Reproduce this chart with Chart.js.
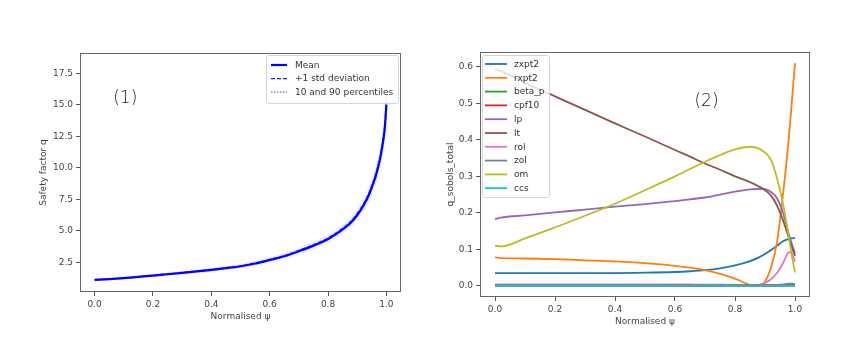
<!DOCTYPE html>
<html>
<head>
<meta charset="utf-8">
<script src="https://cdn.jsdelivr.net/npm/chart.js@4.4.1/dist/chart.umd.min.js"></script>
<style>
  html, body { margin: 0; padding: 0; background: #fff; }
  #wrap { position: relative; width: 865px; height: 344px; }
  #qChart { position: absolute; left: 0; top: 0; }
  #sobolChart { position: absolute; left: 430px; top: 0; }
</style>
</head>
<body>
<div id="wrap">
  <canvas id="qChart" width="430" height="344"></canvas>
  <canvas id="sobolChart" width="435" height="344"></canvas>
</div>
<script>
// q profile: mean, +-1 std and 10/90 percentiles vs normalised psi
const psiQ = [0, 0.05, 0.1, 0.15, 0.2, 0.25, 0.3, 0.35, 0.4, 0.45, 0.5, 0.55, 0.6, 0.65, 0.7,
  0.75, 0.8, 0.85, 0.88, 0.9, 0.92, 0.94, 0.95, 0.96, 0.97, 0.98, 0.99, 0.995, 1.0];
const qMean = [1.10, 1.16, 1.24, 1.34, 1.44, 1.55, 1.66, 1.77, 1.89, 2.03, 2.18, 2.40, 2.68, 2.98, 3.38,
  3.82, 4.35, 5.10, 5.70, 6.25, 6.95, 7.85, 8.45, 9.10, 9.90, 10.90, 12.30, 13.30, 15.00];
const qStdHi = [1.13, 1.19, 1.27, 1.37, 1.48, 1.59, 1.70, 1.81, 1.94, 2.08, 2.23, 2.46, 2.75, 3.05, 3.46,
  3.92, 4.46, 5.23, 5.84, 6.41, 7.12, 8.05, 8.66, 9.33, 10.15, 11.17, 12.61, 13.70, 15.60];
const qStdLo = [1.07, 1.13, 1.21, 1.31, 1.40, 1.51, 1.62, 1.73, 1.84, 1.98, 2.13, 2.34, 2.61, 2.91, 3.30,
  3.72, 4.24, 4.97, 5.56, 6.09, 6.78, 7.65, 8.24, 8.87, 9.65, 10.63, 11.99, 12.90, 14.40];
const qP90 = [1.15, 1.22, 1.31, 1.42, 1.53, 1.65, 1.77, 1.89, 2.02, 2.17, 2.33, 2.57, 2.87, 3.19, 3.62,
  4.09, 4.65, 5.46, 6.10, 6.69, 7.44, 8.40, 9.04, 9.74, 10.59, 11.66, 13.16, 14.50, 18.20];
const qP10 = [1.03, 1.08, 1.15, 1.25, 1.34, 1.44, 1.54, 1.65, 1.76, 1.89, 2.03, 2.23, 2.49, 2.77, 3.14,
  3.55, 4.05, 4.74, 5.30, 5.81, 6.46, 7.30, 7.86, 8.46, 9.21, 10.14, 11.44, 12.30, 13.20];
const qXTicks = [0, 0.2, 0.4, 0.6, 0.8, 1.0];
const qYTicks = [2.5, 5.0, 7.5, 10.0, 12.5, 15.0, 17.5];

// total Sobol indices of q per input parameter
const psiS = [0, 0.02, 0.1, 0.2, 0.3, 0.4, 0.5, 0.6, 0.65, 0.7, 0.75, 0.8, 0.85, 0.88, 0.9,
  0.92, 0.94, 0.96, 0.98, 0.99, 1.0];
const sZxpt2 = [0.035, 0.035, 0.035, 0.035, 0.035, 0.035, 0.036, 0.038, 0.040, 0.043, 0.048, 0.056, 0.068, 0.078, 0.087,
  0.098, 0.110, 0.122, 0.129, 0.130, 0.131];
const sRxpt2 = [0.078, 0.076, 0.075, 0.073, 0.070, 0.067, 0.062, 0.055, 0.050, 0.043, 0.033, 0.020, 0.003, 0.001, 0.012,
  0.050, 0.120, 0.250, 0.410, 0.510, 0.610];
const sBetaP = [0.001, 0.001, 0.001, 0.001, 0.001, 0.001, 0.001, 0.001, 0.001, 0.001, 0.001, 0.001, 0.001, 0.001, 0.001,
  0.001, 0.001, 0.001, 0.001, 0.001, 0.001];
const sCpf10 = [0.001, 0.001, 0.001, 0.001, 0.001, 0.001, 0.001, 0.001, 0.001, 0.001, 0.001, 0.001, 0.001, 0.001, 0.001,
  0.001, 0.001, 0.001, 0.002, 0.002, 0.002];
const sLp = [0.183, 0.187, 0.193, 0.201, 0.209, 0.217, 0.224, 0.232, 0.237, 0.242, 0.250, 0.258, 0.264, 0.266, 0.265,
  0.257, 0.240, 0.200, 0.140, 0.113, 0.090];
const sLt = [0.593, 0.588, 0.556, 0.519, 0.482, 0.445, 0.409, 0.372, 0.354, 0.335, 0.318, 0.300, 0.284, 0.272, 0.262,
  0.247, 0.220, 0.180, 0.130, 0.105, 0.082];
const sRol = [0.004, 0.004, 0.004, 0.004, 0.004, 0.004, 0.004, 0.004, 0.004, 0.003, 0.003, 0.002, 0.001, 0.003, 0.008,
  0.018, 0.035, 0.062, 0.092, 0.088, 0.066];
const sZol = [0.002, 0.002, 0.002, 0.002, 0.002, 0.002, 0.002, 0.002, 0.002, 0.002, 0.002, 0.002, 0.002, 0.002, 0.002,
  0.002, 0.002, 0.004, 0.006, 0.006, 0.005];
const sOm = [0.110, 0.108, 0.130, 0.160, 0.192, 0.225, 0.262, 0.300, 0.320, 0.340, 0.358, 0.374, 0.381, 0.376, 0.365,
  0.345, 0.295, 0.225, 0.130, 0.080, 0.037];
const sCcs = [0, 0, 0, 0, 0, 0, 0, 0, 0, 0, 0, 0, 0, 0, 0, 0, 0, 0, 0, 0, 0];
const sNames = ['zxpt2', 'rxpt2', 'beta_p', 'cpf10', 'lp', 'lt', 'rol', 'zol', 'om', 'ccs'];
const sSeries = [sZxpt2, sRxpt2, sBetaP, sCpf10, sLp, sLt, sRol, sZol, sOm, sCcs];
const sColors = ['#1f77b4', '#ff7f0e', '#2ca02c', '#d62728', '#9467bd', '#8c564b', '#e377c2', '#7f7f7f', '#bcbd22', '#17becf'];
const sXTicks = [0, 0.2, 0.4, 0.6, 0.8, 1.0];
const sYTicks = [0, 0.1, 0.2, 0.3, 0.4, 0.5, 0.6];

const FONT = 'DejaVu Sans';
const toXY = (xs, ys) => xs.map((x, i) => ({ x, y: ys[i] }));

// box frame, boxed legend and panel tag, drawn over the lines
const panelDecor = {
    id: 'panelDecor',
    afterDatasetsDraw(chart, args, opts) {
        const { ctx, chartArea: a } = chart;
        ctx.save();
        ctx.strokeStyle = '#666';
        ctx.lineWidth = 1;
        ctx.strokeRect(Math.round(a.left) + 0.5, Math.round(a.top) + 0.5,
            Math.round(a.right - a.left) - 1, Math.round(a.bottom - a.top) - 1);

        // panel tag
        const tx = chart.scales.x.getPixelForValue(opts.tag.x);
        const ty = chart.scales.y.getPixelForValue(opts.tag.y);
        ctx.fillStyle = '#222';
        ctx.font = `300 17px "${FONT}"`;
        ctx.textAlign = 'center';
        ctx.textBaseline = 'middle';
        ctx.fillText(opts.tag.text, tx, ty);

        // legend
        const L = opts.legend;
        const items = chart.data.datasets.filter(d => d.label);
        ctx.beginPath();
        ctx.roundRect(L.x + 0.5, L.y + 0.5, L.w, L.h, 2.5);
        ctx.fillStyle = 'rgba(255,255,255,0.8)';
        ctx.fill();
        ctx.strokeStyle = '#d6d6d6';
        ctx.stroke();
        ctx.font = `9px "${FONT}"`;
        ctx.textAlign = 'left';
        items.forEach((d, i) => {
            const y = L.y + L.first + i * L.row;
            ctx.beginPath();
            ctx.setLineDash(d.legendDash || d.borderDash || []);
            ctx.strokeStyle = d.legendColor || d.borderColor;
            ctx.lineWidth = d.legendWidth || d.borderWidth;
            ctx.moveTo(L.x + L.s0, y);
            ctx.lineTo(L.x + L.s1, y);
            ctx.stroke();
            ctx.setLineDash([]);
            ctx.fillStyle = '#333';
            ctx.fillText(d.label, L.x + L.tx, y + 0.5);
        });
        ctx.restore();
    }
};

function axis(min, max, ticks, size, title, horizontal) {
    return {
        type: 'linear',
        min, max,
        afterBuildTicks: s => { s.ticks = ticks.map(v => ({ value: v })); },
        afterFit: s => { if (horizontal) s.height = size; else s.width = size; },
        grid: { drawOnChartArea: false, drawTicks: true, tickLength: 4, color: '#555', tickColor: '#555' },
        border: { display: false },
        ticks: {
            padding: 3,
            color: '#444',
            font: { family: FONT, size: 9 },
            maxRotation: 0,
            callback: v => v.toFixed(1)
        },
        title: { display: true, text: title, color: '#444', font: { family: FONT, size: 9 }, padding: { top: 4, bottom: 4 } }
    };
}

const lineBase = { pointRadius: 0, cubicInterpolationMode: 'monotone', fill: false };
const band = 'rgba(40, 40, 255, 0.055)';

new Chart(document.getElementById('qChart'), {
    type: 'line',
    data: {
        datasets: [
            { ...lineBase, label: 'Mean', data: toXY(psiQ, qMean), borderColor: '#0000ff', borderWidth: 2.2, order: 0 },
            { ...lineBase, label: '+1 std deviation', data: toXY(psiQ, qStdHi), borderColor: 'rgba(20,20,255,0.55)', borderWidth: 1.2, borderDash: [4, 2],
              legendColor: '#1a1aff', legendWidth: 1.4, order: 1 },
            { ...lineBase, label: '10 and 90 percentiles', data: toXY(psiQ, qP90), borderColor: 'rgba(70,70,255,0.18)', borderWidth: 1, borderDash: [1.5, 1.5],
              legendColor: 'rgba(70,70,255,0.8)', legendWidth: 1.2, order: 2 },
            { ...lineBase, data: toXY(psiQ, qStdLo), borderColor: 'rgba(60,60,255,0.35)', borderWidth: 1, borderDash: [4, 2], fill: 1, backgroundColor: band, order: 3 },
            { ...lineBase, data: toXY(psiQ, qP10), borderColor: 'rgba(70,70,255,0.1)', borderWidth: 1, borderDash: [1.5, 1.5], fill: 2, backgroundColor: band, order: 4 }
        ]
    },
    options: {
        responsive: false,
        animation: false,
        layout: { padding: { left: 34, right: 29, top: 53, bottom: 18 } },
        scales: {
            x: axis(-0.05, 1.05, qXTicks, 34, 'Normalised ψ', true),
            y: axis(0.14, 19.1, qYTicks, 46, 'Safety factor q', false)
        },
        plugins: {
            legend: { display: false },
            tooltip: { enabled: false },
            panelDecor: {
                tag: { text: '(1)', x: 0.105, y: 15.5 },
                legend: { x: 266, y: 55, w: 132, h: 48, first: 10, row: 13.6, s0: 5, s1: 21, tx: 29 }
            }
        }
    },
    plugins: [panelDecor]
});

new Chart(document.getElementById('sobolChart'), {
    type: 'line',
    data: {
        datasets: sNames.map((name, i) => ({
            ...lineBase,
            label: name,
            data: toXY(psiS, sSeries[i]),
            borderColor: sColors[i],
            borderWidth: 1.8,
            order: sNames.length - i
        }))
    },
    options: {
        responsive: false,
        animation: false,
        layout: { padding: { left: 11, right: 55, top: 52, bottom: 13 } },
        scales: {
            x: axis(-0.05, 1.05, sXTicks, 34, 'Normalised ψ', true),
            y: axis(-0.0305, 0.6405, sYTicks, 39, 'q_sobols_total', false)
        },
        plugins: {
            legend: { display: false },
            tooltip: { enabled: false },
            panelDecor: {
                tag: { text: '(2)', x: 0.705, y: 0.505 },
                legend: { x: 52, y: 55, w: 67, h: 142, first: 9, row: 13.8, s0: 3, s1: 25, tx: 32 }
            }
        }
    },
    plugins: [panelDecor]
});
</script>
</body>
</html>
